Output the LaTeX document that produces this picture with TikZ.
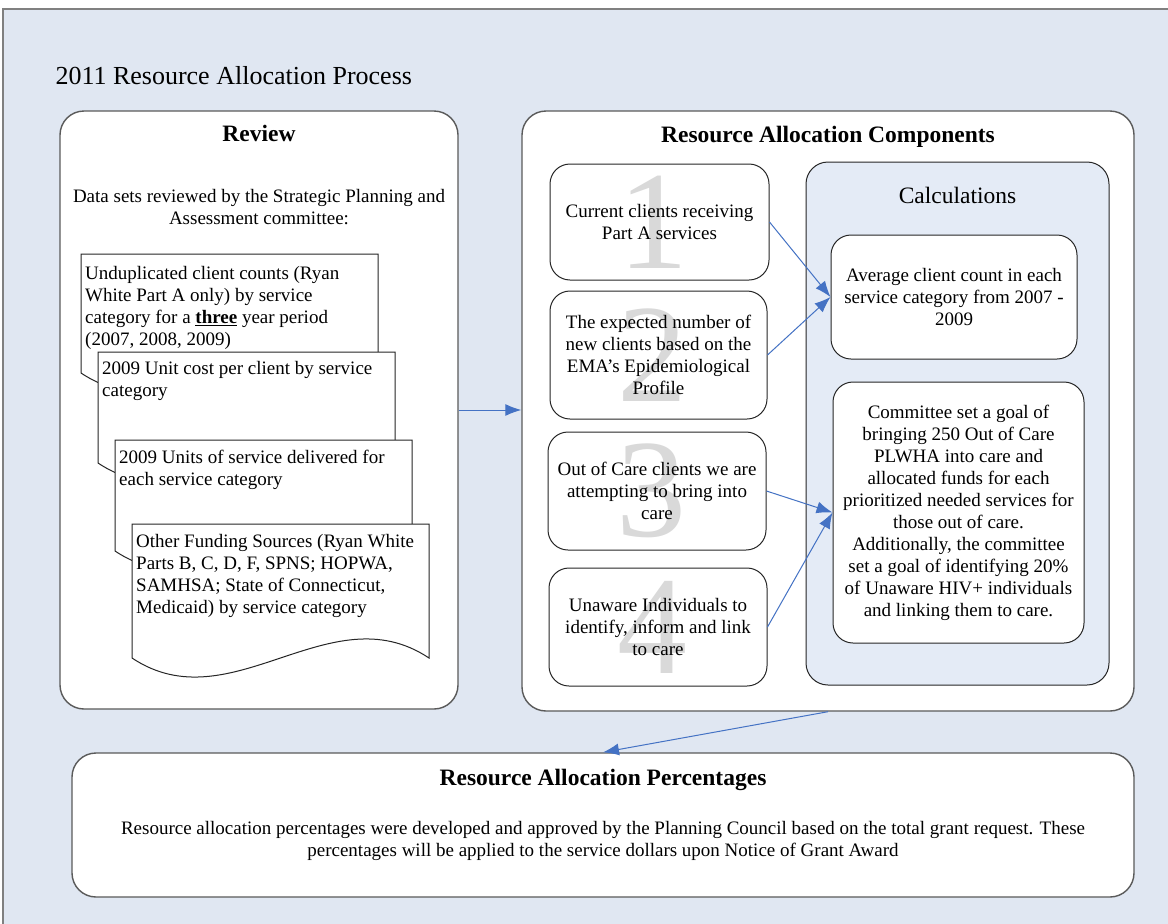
\documentclass[tikz,border=0pt]{standalone}
\usepackage{fontspec}
\setmainfont{Liberation Serif}
\usetikzlibrary{arrows.meta}
\definecolor{bgblue}{RGB}{224,231,242}
\definecolor{calcblue}{RGB}{228,235,246}
\definecolor{arrowblue}{RGB}{68,114,196}
\definecolor{numgray}{RGB}{217,217,217}
\definecolor{framegray}{RGB}{90,90,90}
\definecolor{edgegray}{RGB}{128,128,128}
\tikzset{
  >={Latex[length=16pt,width=12pt]},
  numeral/.style={path picture={
    \node[text=numgray,font=\fontsize{140}{140}\selectfont,xshift=-6pt]
      at (path picture bounding box.center) {#1};}},
}
\tikzstyle{panel}=[draw=framegray,line width=1.4pt,fill=white,rounded corners=24pt,inner sep=0pt]
\tikzstyle{item}=[draw=black!85,line width=1pt,fill=white,rounded corners=20pt,align=center,inner sep=0pt]
\tikzstyle{doc}=[draw=black!85,line width=1pt,fill=white]
\tikzstyle{link}=[->,arrowblue,line width=1pt]
\tikzstyle{heading}=[font=\bfseries\fontsize{23.5}{27}\selectfont,anchor=base]
\tikzstyle{every node}=[font=\fontsize{19}{22}\selectfont]

\begin{document}
\begin{tikzpicture}[x=1pt,y=-1pt]
  \useasboundingbox (0,0) rectangle (1168,924);
  \fill[white] (0,0) rectangle (1168,924);
  \fill[bgblue] (3,9) rectangle (1168,924);
  \draw[edgegray,line width=1.2pt] (1168,9) -- (3,9) -- (3,924);
  \node[anchor=base west,font=\fontsize{26}{30}\selectfont] (title) at (52,84) {2011 Resource Allocation Process};

  % review column
  \node[panel,minimum width=398pt,minimum height=598pt] (review) at (259,410) {};
  \node[heading] (reviewhead) at (259,141) {Review};
  \node[anchor=north,align=center] (reviewtext) at (259,186) {Data sets reviewed by the Strategic Planning and\\Assessment committee:};
  % stacked data sets
  \draw[doc] (81,254) -- (378,254) -- (378,373) .. controls (279,307) and (180,439) .. (81,373) -- cycle;
  \node[anchor=north west,align=left,inner sep=0pt] (set1) at (85,266) {Unduplicated client counts (Ryan\\White Part A only) by service\\category for a \underline{\textbf{three}} year period\\(2007, 2008, 2009)};
  \draw[doc] (98,352) -- (395,352) -- (395,463) .. controls (296,397) and (197,529) .. (98,463) -- cycle;
  \node[anchor=north west,align=left,inner sep=0pt] (set2) at (102,361) {2009 Unit cost per client by service\\category};
  \draw[doc] (115,440) -- (412,440) -- (412,551) .. controls (313,485) and (214,617) .. (115,551) -- cycle;
  \node[anchor=north west,align=left,inner sep=0pt] (set3) at (119,450) {2009 Units of service delivered for\\each service category};
  \draw[doc] (132,524) -- (429,524) -- (429,658) .. controls (330,592) and (231,724) .. (132,658) -- cycle;
  \node[anchor=north west,align=left,inner sep=0pt] (set4) at (136,534) {Other Funding Sources (Ryan White\\Parts B, C, D, F, SPNS; HOPWA,\\SAMHSA; State of Connecticut,\\Medicaid) by service category};

  % components
  \node[panel,minimum width=612pt,minimum height=600pt] (alloc) at (828,411) {};
  \node[heading] (allochead) at (828,142) {Resource Allocation Components};
  \node[item,minimum width=219pt,minimum height=116pt,numeral=1] (c1) at (659.5,222) {Current clients receiving\\Part A services};
  \node[item,minimum width=217pt,minimum height=128pt,numeral=2] (c2) at (658.5,355) {The expected number of\\new clients based on the\\EMA’s Epidemiological\\Profile};
  \node[item,minimum width=218pt,minimum height=118pt,numeral=3] (c3) at (657,491) {Out of Care clients we are\\attempting to bring into\\care};
  \node[item,minimum width=218pt,minimum height=118pt,numeral=4] (c4) at (658,627) {Unaware Individuals to\\identify, inform and link\\to care};

  % calculations
  \node[item,fill=calcblue,rounded corners=22pt,minimum width=303pt,minimum height=523pt] (calc) at (957.5,423.5) {};
  \node[font=\fontsize{23.5}{27}\selectfont,anchor=base] (calchead) at (957.5,203) {Calculations};
  \node[item,minimum width=246pt,minimum height=124pt] (avg) at (954,297) {Average client count in each\\service category from 2007 -\\2009};
  \node[item,minimum width=251pt,minimum height=261pt] (goal) at (958.5,512.5) {Committee set a goal of\\bringing 250 Out of Care\\PLWHA into care and\\allocated funds for each\\prioritized needed services for\\those out of care.\\Additionally, the committee\\set a goal of identifying 20\%\\of Unaware HIV+ individuals\\and linking them to care.};

  % percentages
  \node[panel,minimum width=1062pt,minimum height=144pt] (pct) at (603,825) {};
  \node[heading] (pcthead) at (603,785) {Resource Allocation Percentages};
  \node[anchor=north,align=center] (pcttext) at (603,818) {Resource allocation percentages were developed and approved by the Planning Council based on the total grant request. These\\percentages will be applied to the service dollars upon Notice of Grant Award};

  % connectors
  \draw[link] (review.east) -- (review.east -| alloc.west);
  \draw[link] (c1.east) -- (avg.west);
  \draw[link] (c2.east) -- (avg.west);
  \draw[link] (c3.east) -- (goal.west);
  \draw[link] (c4.east) -- (goal.west);
  \draw[link] (alloc.south) -- (pct.north);
\end{tikzpicture}
\end{document}
